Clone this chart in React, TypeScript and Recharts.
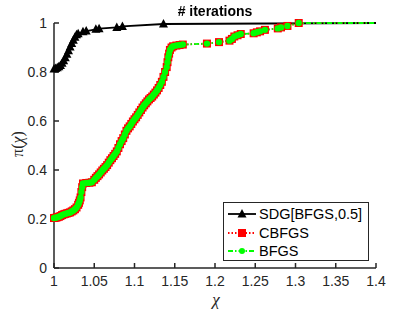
import React from 'react'
import { LineChart, Line, XAxis, YAxis, Label } from 'recharts'

// performance profile, # iterations
const xTicks = [1, 1.05, 1.1, 1.15, 1.2, 1.25, 1.3, 1.35, 1.4]
const yTicks = [0, 0.2, 0.4, 0.6, 0.8, 1]

const sdgX = [
  1.0, 1.002, 1.004, 1.006, 1.008, 1.01, 1.012, 1.014, 1.016, 1.018, 1.02, 1.022, 1.024, 1.026, 1.028, 1.03,
  1.036, 1.04, 1.052, 1.056, 1.078, 1.085, 1.136, 1.4,
]
const sdgY = [
  0.812, 0.814, 0.817, 0.821, 0.827, 0.836, 0.846, 0.858, 0.872, 0.887, 0.902, 0.916, 0.93, 0.942, 0.952, 0.956,
  0.964, 0.967, 0.974, 0.977, 0.982, 0.986, 0.996, 1.0,
]

const bfgsX = [
  1.0, 1.002, 1.004, 1.006, 1.008, 1.01, 1.012, 1.014, 1.016, 1.018, 1.02, 1.022, 1.024, 1.026, 1.028, 1.03,
  1.031, 1.032, 1.033, 1.034, 1.035, 1.036, 1.04, 1.044, 1.047, 1.05, 1.052, 1.054, 1.056, 1.058, 1.06, 1.062,
  1.064, 1.066, 1.068, 1.07, 1.072, 1.074, 1.076, 1.078, 1.08, 1.082, 1.084, 1.086, 1.088, 1.09, 1.092, 1.094,
  1.096, 1.098, 1.1, 1.102, 1.104, 1.106, 1.108, 1.11, 1.112, 1.114, 1.116, 1.118, 1.12, 1.122, 1.124, 1.126,
  1.128, 1.13, 1.132, 1.134, 1.136, 1.138, 1.14, 1.141, 1.142, 1.143, 1.144, 1.146, 1.148, 1.152, 1.156, 1.16,
  1.19, 1.205, 1.218, 1.221, 1.224, 1.228, 1.232, 1.248, 1.252, 1.256, 1.262, 1.278, 1.282, 1.29, 1.304, 1.4,
]
const bfgsY = [
  0.204, 0.205, 0.207, 0.209, 0.212, 0.216, 0.219, 0.221, 0.223, 0.225, 0.227, 0.231, 0.235, 0.24, 0.247, 0.258,
  0.266, 0.276, 0.288, 0.31, 0.33, 0.345, 0.347, 0.348, 0.35, 0.36, 0.368, 0.375, 0.382, 0.39, 0.398, 0.405,
  0.412, 0.42, 0.43, 0.44, 0.448, 0.457, 0.466, 0.476, 0.49, 0.505, 0.518, 0.53, 0.545, 0.56, 0.57, 0.578,
  0.588, 0.598, 0.607, 0.615, 0.625, 0.635, 0.645, 0.655, 0.664, 0.672, 0.68, 0.688, 0.694, 0.7, 0.708, 0.716,
  0.725, 0.735, 0.747, 0.76, 0.78, 0.8, 0.82, 0.84, 0.86, 0.875, 0.89, 0.9, 0.905, 0.908, 0.91, 0.912,
  0.916, 0.922, 0.928, 0.935, 0.945, 0.95, 0.955, 0.958, 0.962, 0.966, 0.972, 0.978, 0.982, 0.988, 1.0, 1.0,
]

// CBFGS lands on the same points as BFGS
const cbfgsX = bfgsX
const cbfgsY = bfgsY

const sdgData = sdgX.map((x, i) => ({ x, y: sdgY[i] }))
const cbfgsData = cbfgsX.map((x, i) => ({ x, y: cbfgsY[i] }))
const bfgsData = bfgsX.map((x, i) => ({ x, y: bfgsY[i] }))

const FONT = '"Liberation Sans", Arial, Helvetica, sans-serif'
const AXIS = '#262626'

const Triangle = (props: any) => {
  const { cx, cy, index } = props
  if (index === sdgData.length - 1) return <g key={`t-${index}`} />
  return <path key={`t-${index}`} d={`M${cx},${cy - 5} L${cx + 4.5},${cy + 3.5} L${cx - 4.5},${cy + 3.5} Z`} fill="#000" />
}

const Square = (props: any) => {
  const { cx, cy, index } = props
  if (index === cbfgsData.length - 1) return <g key={`s-${index}`} />
  return <rect key={`s-${index}`} x={cx - 4} y={cy - 4} width={8} height={8} fill="#ff0000" />
}

const Dot = (props: any) => {
  const { cx, cy, index } = props
  if (index === bfgsData.length - 1) return <g key={`d-${index}`} />
  return <circle key={`d-${index}`} cx={cx} cy={cy} r={3.2} fill="#00ff00" />
}

const legendItems = [
  { name: 'SDG[BFGS,0.5]', color: '#000', dash: undefined, marker: 'tri' },
  { name: 'CBFGS', color: '#ff0000', dash: '1.5 2', marker: 'sq' },
  { name: 'BFGS', color: '#00ff00', dash: '5 2 1.5 2', marker: 'dot' },
]

export default function App() {
  return (
    <div style={{ position: 'fixed', left: 0, top: 0, width: 415, height: 312, background: '#fff', fontFamily: FONT }}>
      <LineChart width={415} height={312} margin={{ top: 23, right: 39, bottom: 0, left: 0 }}>
        <XAxis
          dataKey="x"
          type="number"
          domain={[1, 1.4]}
          ticks={xTicks}
          allowDuplicatedCategory={false}
          height={44}
          tickSize={-5}
          tickMargin={13}
          stroke={AXIS}
          strokeWidth={1.5}
          tick={{ fill: AXIS, fontSize: 14, fontFamily: FONT }}
        >
          <Label
            content={(p: any) => {
              const vb = p.viewBox
              return (
                <text x={vb.x + vb.width / 2 + 1} y={305} textAnchor="middle" fontSize={17} fontStyle="italic" fontFamily='"Liberation Serif", serif' fill={AXIS}>
                  χ
                </text>
              )
            }}
          />
        </XAxis>
        <YAxis
          type="number"
          domain={[0, 1]}
          ticks={yTicks}
          width={54}
          tickSize={-5}
          tickMargin={12}
          stroke={AXIS}
          strokeWidth={1.5}
          tick={{ fill: AXIS, fontSize: 14, fontFamily: FONT }}
        >
          <Label
            content={(p: any) => {
              const cy = 144
              return (
                <text x={23} y={cy} transform={`rotate(-90 23 ${cy})`} textAnchor="middle" fontSize={16} fontFamily='"Liberation Serif", serif' fill={AXIS}>
                  π(<tspan fontStyle="italic">χ</tspan>)
                </text>
              )
            }}
          />
        </YAxis>
        <Line data={sdgData} dataKey="y" type="linear" stroke="#000" strokeWidth={1.8} dot={Triangle} activeDot={false} isAnimationActive={false} />
        <Line data={cbfgsData} dataKey="y" type="linear" stroke="#ff0000" strokeWidth={1.8} strokeDasharray="1.5 2" dot={Square} activeDot={false} isAnimationActive={false} />
        <Line data={bfgsData} dataKey="y" type="linear" stroke="#00ff00" strokeWidth={1.8} strokeDasharray="5 2 1.5 2" dot={Dot} activeDot={false} isAnimationActive={false} />
      </LineChart>

      <div style={{ position: 'absolute', left: 0, top: 3, width: 430, textAlign: 'center', fontSize: 14, fontWeight: 'bold', color: '#000' }}>
        # iterations
      </div>

      <div style={{ position: 'absolute', left: 223, top: 202, width: 146, height: 59, boxSizing: 'border-box', border: `1.5px solid ${AXIS}`, background: '#fff' }}>
        {legendItems.map((item, i) => (
          <div key={item.name} style={{ position: 'absolute', left: 2, top: 2 + i * 18.5, height: 18, display: 'flex', alignItems: 'center' }}>
            <svg width={30} height={18}>
              <line x1={2} y1={9} x2={30} y2={9} stroke={item.color} strokeWidth={1.8} strokeDasharray={item.dash} />
              {item.marker === 'tri' && <path d="M16,4 L20.5,12.5 L11.5,12.5 Z" fill="#000" />}
              {item.marker === 'sq' && <rect x={12} y={5} width={8} height={8} fill="#ff0000" />}
              {item.marker === 'dot' && <circle cx={16} cy={9} r={3} fill="#00ff00" />}
            </svg>
            <span style={{ fontSize: 14.5, color: '#000', marginLeft: 3, whiteSpace: 'nowrap' }}>{item.name}</span>
          </div>
        ))}
      </div>
    </div>
  )
}
